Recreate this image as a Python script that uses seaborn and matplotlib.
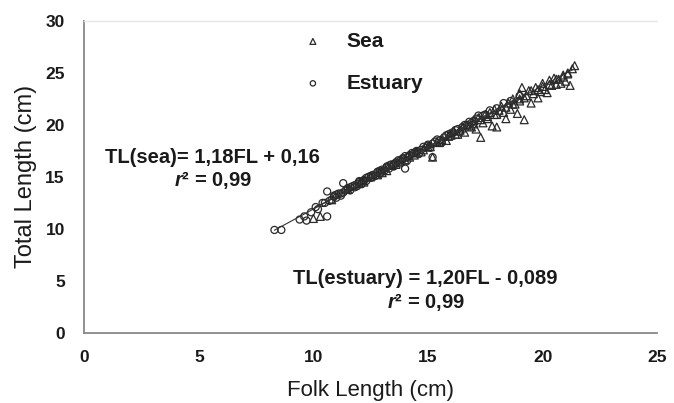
import numpy as np
import pandas as pd
import matplotlib
matplotlib.use("Agg")
import matplotlib.pyplot as plt
import seaborn as sns

# Estuary fish: fork length (FL) and total length (TL), cm
estuary_fl = [8.3, 8.6, 9.4, 9.6, 9.7, 9.9, 10.1, 10.2, 10.4, 10.6, 10.6, 10.8, 10.9, 11.0,
              11.1, 11.2, 11.3, 11.4, 11.5, 11.6, 11.7, 11.8, 11.9, 12.0, 12.1, 12.2, 12.3,
              12.4, 12.5, 12.6, 12.7, 12.8, 12.9, 13.0, 13.1, 13.2, 13.3, 13.4, 13.5, 13.6,
              13.7, 13.8, 13.9, 14.0, 14.0, 14.1, 14.2, 14.3, 14.5, 14.6, 14.8, 15.0, 15.1,
              15.2, 15.3, 15.5, 15.6, 15.8, 16.0, 16.2, 16.4, 16.6, 16.8, 17.0, 17.2, 17.5,
              17.7, 18.0, 18.3, 18.6, 19.0,
              10.5, 10.7, 10.9, 11.0, 11.2, 11.3, 11.5, 11.6, 11.8, 11.9, 12.0, 12.2, 12.3,
              12.5, 12.6, 12.8, 12.9, 13.0, 13.2, 13.3, 13.5, 13.6, 13.8, 13.9, 14.1, 14.2,
              14.4, 14.5, 14.7, 14.9, 15.0, 15.2, 15.4, 15.7, 15.9, 16.1, 16.3, 16.5, 16.7,
              16.9, 17.1, 17.4]
estuary_tl = [9.9, 9.9, 10.9, 11.2, 10.8, 11.6, 12.1, 11.9, 12.5, 13.6, 11.2, 12.8, 13.1, 13.0,
              13.4, 13.2, 14.4, 13.7, 13.9, 13.7, 14.1, 14.0, 14.3, 14.5, 14.3, 14.7, 14.6,
              15.0, 14.9, 15.2, 15.1, 15.5, 15.3, 15.7, 15.6, 16.0, 15.8, 16.2, 16.0, 16.4,
              16.6, 16.3, 16.8, 17.0, 15.8, 16.6, 17.1, 17.3, 17.4, 17.2, 17.9, 18.1, 17.8,
              16.9, 18.4, 18.5, 18.3, 19.0, 19.2, 19.5, 19.3, 20.0, 20.3, 20.4, 20.9, 21.0,
              21.4, 21.6, 22.1, 22.3, 22.8,
              12.5, 12.7, 13.2, 13.3, 13.4, 13.5, 13.8, 14.0, 14.2, 14.1, 14.6, 14.6, 14.9,
              15.1, 15.0, 15.4, 15.6, 15.5, 15.9, 16.1, 16.2, 16.3, 16.6, 16.7, 16.9, 17.0,
              17.3, 17.5, 17.6, 17.8, 18.0, 18.2, 18.6, 18.8, 19.1, 19.3, 19.6, 19.8, 20.0,
              20.2, 20.6, 20.9]

# Sea fish
sea_fl = [10.0, 10.3, 10.8, 11.5, 12.0, 12.5, 13.0, 13.4, 13.8, 14.2, 14.5, 14.8, 15.0, 15.2,
          15.4, 15.6, 15.8, 16.0, 16.1, 16.3, 16.5, 16.6, 16.7, 16.9, 17.0, 17.1, 17.2, 17.3,
          17.4, 17.5, 17.6, 17.7, 17.8, 17.9, 18.0, 18.0, 18.2, 18.3, 18.4, 18.5, 18.6, 18.7,
          18.8, 18.9, 19.0, 19.0, 19.1, 19.2, 19.3, 19.4, 19.5, 19.6, 19.7, 19.8, 19.9, 20.0,
          20.1, 20.2, 20.3, 20.4, 20.5, 20.6, 20.7, 20.8, 20.9, 21.0, 21.1, 21.2, 21.3, 21.4,
          12.2, 12.8, 13.2, 13.6, 14.0, 14.4, 14.7, 15.1, 15.5, 15.9, 16.2, 16.4, 16.8, 17.0,
          17.3, 17.6, 17.9, 18.1, 18.4, 18.7, 19.0, 19.2, 19.5, 19.8, 20.0, 20.3, 20.6, 20.9,
          21.1]
sea_tl = [11.0, 11.2, 12.8, 13.8, 14.4, 15.0, 15.4, 16.1, 16.5, 16.9, 17.3, 17.6, 17.9, 16.9,
          18.4, 18.6, 18.5, 19.0, 19.4, 19.1, 19.7, 19.3, 20.0, 19.8, 20.4, 19.6, 20.7, 18.8,
          20.2, 21.0, 20.6, 21.2, 19.9, 21.5, 19.8, 21.0, 21.8, 21.2, 20.6, 22.1, 21.5, 22.5,
          22.0, 21.1, 23.0, 22.3, 23.6, 20.5, 22.8, 23.3, 22.1, 23.0, 23.6, 22.6, 23.2, 24.0,
          23.4, 23.1, 24.3, 23.8, 24.5, 23.9, 24.4, 24.0, 24.8, 24.2, 25.0, 23.8, 25.4, 25.7,
          14.5, 15.2, 15.6, 16.2, 16.6, 17.1, 17.4, 17.9, 18.3, 18.9, 19.1, 19.5, 19.9, 20.1,
          20.5, 20.8, 21.0, 21.4, 21.7, 22.0, 22.5, 22.6, 23.3, 23.4, 23.7, 23.9, 24.4, 24.6,
          24.9]

# regression equations shown on the chart
sea_slope, sea_icpt = 1.18, 0.16
est_slope, est_icpt = 1.20, -0.089

sns.set_style("white")
plt.rcParams["font.family"] = ["Liberation Sans", "DejaVu Sans"]
plt.rcParams["font.weight"] = "bold"
plt.rcParams["mathtext.fontset"] = "custom"
plt.rcParams["mathtext.it"] = "Liberation Sans:italic:bold"
plt.rcParams["mathtext.rm"] = "Liberation Sans:bold"

fig = plt.figure(figsize=(6.74, 4.03), dpi=100)
ax = fig.add_axes([0.125, 0.174, 0.85, 0.774])

edge = "#2a2a2a"
txt = "#1a1a1a"
sns.scatterplot(x=sea_fl, y=sea_tl, marker="^", s=32, facecolor="none",
                edgecolor=edge, linewidth=0.9, ax=ax, label="Sea")
sns.scatterplot(x=estuary_fl, y=estuary_tl, marker="o", s=26, facecolor="none",
                edgecolor=edge, linewidth=0.9, ax=ax, label="Estuary")

# trend lines across each data range
fit = pd.DataFrame({
    "fl": [min(sea_fl), max(sea_fl), min(estuary_fl), max(estuary_fl)],
    "grp": ["sea", "sea", "est", "est"],
})
fit["tl"] = np.where(fit["grp"] == "sea",
                     sea_slope * fit["fl"] + sea_icpt,
                     est_slope * fit["fl"] + est_icpt)
sns.lineplot(data=fit, x="fl", y="tl", units="grp", estimator=None,
             color="#333333", lw=0.8, ax=ax, legend=False)

for coll in ax.collections:
    coll.set_facecolor("none")

ax.set_xlim(0, 25)
ax.set_ylim(0, 30)
ax.set_xticks([0, 5, 10, 15, 20, 25])
ax.set_yticks([0, 5, 10, 15, 20, 25, 30])
ax.tick_params(axis="both", labelsize=12.5, colors=txt, direction="out",
               length=4, width=1, color="#888888")
ax.tick_params(axis="y", pad=10)
ax.tick_params(axis="x", pad=8)
ax.set_xlabel("Folk Length (cm)", fontsize=16, fontweight="normal", color=txt, labelpad=11)
ax.set_ylabel("Total Length (cm)", fontsize=17, fontweight="normal", color=txt, labelpad=6)

sns.despine(ax=ax, right=True, top=False)
for side in ["left", "bottom"]:
    ax.spines[side].set_color("#888888")
    ax.spines[side].set_linewidth(1.3)
ax.spines["top"].set_color("#e6e6e6")
ax.spines["top"].set_linewidth(1)

leg = ax.legend(loc="upper left", bbox_to_anchor=(0.33, 1.025), frameon=False,
                prop={"size": 15, "weight": "bold"}, labelspacing=1.1,
                handletextpad=0.6, markerscale=0.75)
for h in leg.legend_handles:
    h.set_facecolor("none")
    h.set_edgecolor(edge)
for t in leg.get_texts():
    t.set_color(txt)

ax.text(5.6, 16.9, "TL(sea)= 1,18FL + 0,16", ha="center", va="center",
        fontsize=14.5, color=txt)
ax.text(5.6, 14.7, "$r$² = 0,99", ha="center", va="center",
        fontsize=14.5, color=txt)
ax.text(14.9, 5.2, "TL(estuary) = 1,20FL - 0,089", ha="center", va="center",
        fontsize=14.5, color=txt)
ax.text(14.9, 2.95, "$r$² = 0,99", ha="center", va="center",
        fontsize=14.5, color=txt)

fig.savefig("out.png", dpi=100)
